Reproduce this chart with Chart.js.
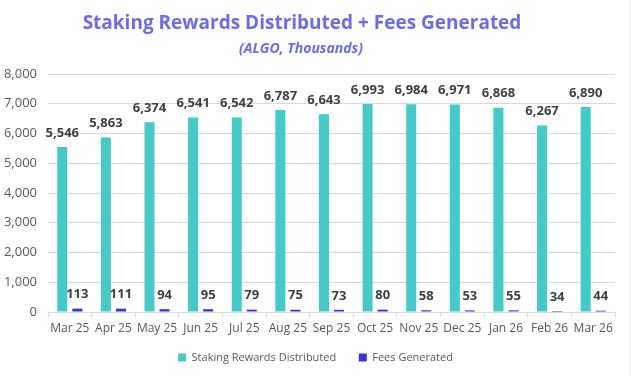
<!DOCTYPE html>
<html><head><meta charset="utf-8">
<script src="https://cdn.jsdelivr.net/npm/chart.js@4"></script>
<style>html,body{margin:0;padding:0;background:#fff}canvas{display:block}</style>
</head><body>
<canvas id="c" width="631" height="376"></canvas>
<script>
const categories = ['Mar 25','Apr 25','May 25','Jun 25','Jul 25','Aug 25','Sep 25','Oct 25','Nov 25','Dec 25','Jan 26','Feb 26','Mar 26'];
const stakingRewards = [5546,5863,6374,6541,6542,6787,6643,6993,6984,6971,6868,6267,6890];
const feesGenerated = [113,111,94,95,79,75,73,80,58,53,55,34,44];
const yTicks = [0,1000,2000,3000,4000,5000,6000,7000,8000];
const titleText = 'Staking Rewards Distributed + Fees Generated';
const subtitleText = '(ALGO, Thousands)';

const FONT = "'Open Sans', sans-serif";

const labelPlugin = {
  id: 'labels',
  afterDatasetsDraw(chart) {
    const ctx = chart.ctx;
    ctx.save();
    ctx.fillStyle = '#404040';
    ctx.textAlign = 'center';
    ctx.textBaseline = 'middle';
    chart.data.datasets.forEach((ds, di) => {
      const meta = chart.getDatasetMeta(di);
      ctx.font = 'bold 13px ' + FONT;
      meta.data.forEach((el, i) => {
        ctx.fillText(ds.data[i].toLocaleString('en-US'), el.x, el.y - 14);
      });
    });
    ctx.restore();
  }
};

const titlePlugin = {
  id: 'titles',
  afterDraw(chart) {
    const ctx = chart.ctx;
    ctx.save();
    ctx.fillStyle = '#6b6bef';
    ctx.textAlign = 'center';
    ctx.textBaseline = 'middle';
    ctx.font = 'bold 19px ' + FONT;
    ctx.fillText(titleText, 302, 24);
    ctx.font = 'italic bold 14px ' + FONT;
    ctx.fillText(subtitleText, 301, 49);
    ctx.fillStyle = '#e8e8e8';
    ctx.fillRect(chart.width - 1, 0, 1, chart.height);
    ctx.restore();
  }
};

new Chart(document.getElementById('c'), {
  type: 'bar',
  data: {
    labels: categories,
    datasets: [
      { label: 'Staking Rewards Distributed', data: stakingRewards, backgroundColor: '#44cbc7', categoryPercentage: 0.69, barPercentage: 0.667 },
      { label: 'Fees Generated', data: feesGenerated, backgroundColor: '#3333ee', categoryPercentage: 0.69, barPercentage: 0.667 }
    ]
  },
  options: {
    responsive: false,
    animation: false,
    layout: { padding: { top: 74, left: 0, right: 0, bottom: 3 } },
    plugins: {
      legend: {
        position: 'bottom',
        labels: {
          boxWidth: 8, boxHeight: 8, color: '#595959', font: { family: FONT, size: 11 }, padding: 14,
          generateLabels(chart) {
            const items = Chart.defaults.plugins.legend.labels.generateLabels(chart);
            items[0].text = items[0].text + '   ';
            return items;
          }
        }
      },
      tooltip: { enabled: false },
      title: { display: false }
    },
    scales: {
      x: {
        afterFit(axis) { axis.height = 26; },
        grid: { display: true, drawOnChartArea: false, drawTicks: true, tickLength: 5, color: '#d9d9d9', offset: true },
        border: { color: '#d9d9d9' },
        ticks: { color: '#595959', font: { family: FONT, size: 12 }, padding: 4, maxRotation: 0, minRotation: 0, autoSkip: false }
      },
      y: {
        min: 0, max: 8000,
        afterFit(axis) { axis.width = 48; },
        afterBuildTicks(axis) { axis.ticks = yTicks.map(v => ({ value: v })); },
        grid: { color: '#d9d9d9', drawTicks: false },
        border: { display: false },
        ticks: { color: '#595959', font: { family: FONT, size: 13 }, padding: 11,
          callback: v => v.toLocaleString('en-US') }
      },
      spacer: {
        type: 'linear', position: 'right',
        afterFit(axis) { axis.width = 16; },
        grid: { display: false, drawTicks: false },
        border: { display: false },
        ticks: { display: false }
      }
    }
  },
  plugins: [labelPlugin, titlePlugin]
});
</script>
</body></html>
